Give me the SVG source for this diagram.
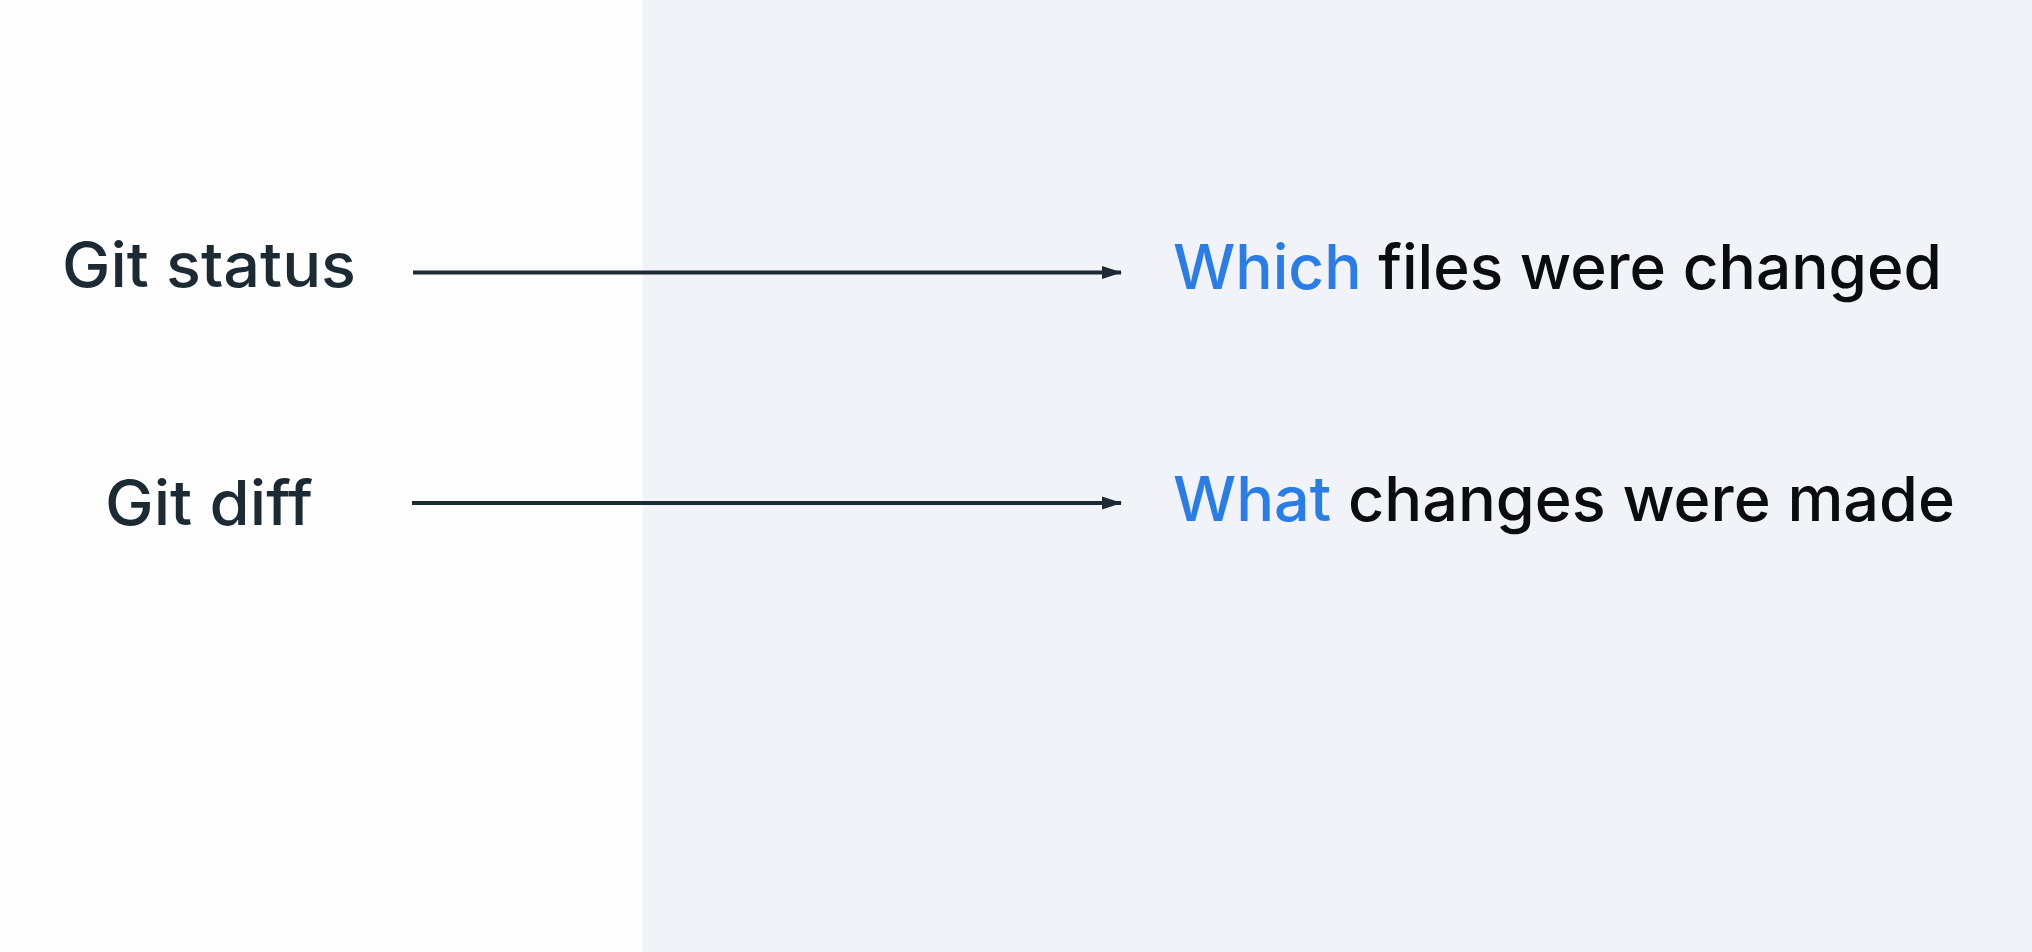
<svg xmlns="http://www.w3.org/2000/svg" width="2032" height="952" viewBox="0 0 2032 952">
  <defs>
    <style>
      .lbl { font-family: Inter, "Open Sans", "Liberation Sans", sans-serif; font-size: 62px; font-weight: 500; }
      .left { fill: #1c2b33; }
      .dark { fill: #0b0c0e; }
      .blue { fill: #2a7de6; }
      .conn { stroke: #1c2b33; stroke-width: 4; fill: none; }
    </style>
    <marker id="arrow" viewBox="0 0 20 16" refX="19" refY="8" markerWidth="20" markerHeight="16" markerUnits="userSpaceOnUse" orient="auto">
      <path d="M0,1.5 L20,8 L0,14.5 Z" fill="#1c2b33"/>
    </marker>
  </defs>
  <rect x="0" y="0" width="2032" height="952" fill="#fdfdfd"/>
  <rect x="643" y="0" width="1389" height="952" fill="#f1f3f8"/>

  <g id="node-git-status">
    <text class="lbl left" x="62" y="287" textLength="294" lengthAdjust="spacingAndGlyphs">Git status</text>
  </g>
  <g id="node-git-diff">
    <text class="lbl left" x="105" y="525" textLength="208" lengthAdjust="spacingAndGlyphs">Git diff</text>
  </g>
  <g id="node-which-files">
    <text class="lbl" x="1173" y="289" textLength="769" lengthAdjust="spacingAndGlyphs"><tspan class="blue">Which</tspan><tspan class="dark"> files were changed</tspan></text>
  </g>
  <g id="node-what-changes">
    <text class="lbl" x="1173" y="521" textLength="782" lengthAdjust="spacingAndGlyphs"><tspan class="blue">What</tspan><tspan class="dark"> changes were made</tspan></text>
  </g>

  <g id="connectors">
    <line class="conn" x1="413" y1="272.5" x2="1121" y2="272.5" marker-end="url(#arrow)"/>
    <line class="conn" x1="412" y1="503" x2="1121" y2="503" marker-end="url(#arrow)"/>
  </g>
</svg>
